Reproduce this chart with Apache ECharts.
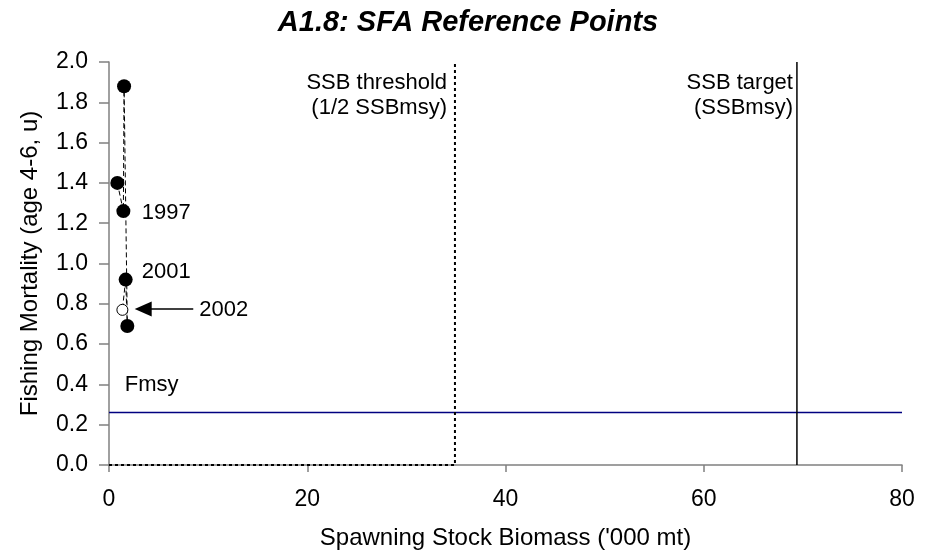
<!DOCTYPE html>
<html>
<head>
<meta charset="utf-8">
<title>A1.8: SFA Reference Points</title>
<script src="https://cdn.jsdelivr.net/npm/echarts@6/dist/echarts.min.js"></script>
<style>
  html, body { margin: 0; padding: 0; background: #fff; }
  #main { width: 936px; height: 556px; }
</style>
</head>
<body>
<div id="main"></div>
<script>
// stock trajectory (SSB '000 mt vs F), in plotted order
const years = [1996, 1997, 1998, 2000, 2001, 2002];
const ssb = [0.84, 1.45, 1.52, 1.85, 1.68, 1.35];
const fMort = [1.40, 1.26, 1.88, 0.69, 0.92, 0.77];

// reference points
const fmsy = 0.26;
const ssbThreshold = 34.9;
const ssbTarget = 69.4;

// tick labels
const xTicks = [0, 20, 40, 60, 80];
const yTicks = [0, 0.2, 0.4, 0.6, 0.8, 1.0, 1.2, 1.4, 1.6, 1.8, 2.0];

// text notes placed in data coordinates
const noteText = ["SSB threshold\n(1/2 SSBmsy)", "SSB target\n(SSBmsy)", "Fmsy", "1997", "2001", "2002"];
const noteX = [34.1, 69.0, 1.6, 3.3, 3.3, 9.1];
const noteY = [1.834, 1.834, 0.397, 1.25, 0.958, 0.769];
const noteSide = ["left", "left", "right", "right", "right", "right"];

// arrow pointing at the 2002 point
const arrowFrom = [8.5, 0.774];
const arrowTo = [3.45, 0.774];

const font = "'Liberation Sans', Arial, sans-serif";
const axisGrey = "#808080";

const myChart = echarts.init(document.getElementById("main"));

const trail = years.map(function (y, i) {
  const item = { name: String(y), value: [ssb[i], fMort[i]] };
  if (i === years.length - 1) {
    // latest year drawn as an open circle
    item.symbolSize = 11;
    item.itemStyle = { color: "#fff", borderColor: "#000", borderWidth: 1 };
  }
  return item;
});

const notes = noteText.map(function (t, i) {
  return {
    name: t,
    value: [noteX[i], noteY[i]],
    label: { position: noteSide[i], align: noteSide[i] === "left" ? "right" : "left" },
  };
});

const option = {
  animation: false,
  backgroundColor: "#fff",
  textStyle: { fontFamily: font },
  title: {
    text: "A1.8: SFA Reference Points",
    left: "center",
    top: 3,
    textStyle: {
      fontFamily: font,
      fontSize: 29,
      fontWeight: "bold",
      fontStyle: "italic",
      color: "#000",
    },
  },
  grid: { left: 109, right: 34, top: 62, bottom: 91 },
  xAxis: {
    type: "value",
    min: xTicks[0],
    max: xTicks[xTicks.length - 1],
    interval: xTicks[1] - xTicks[0],
    name: "Spawning Stock Biomass ('000 mt)",
    nameLocation: "middle",
    nameGap: 61,
    nameTextStyle: { fontFamily: font, fontSize: 24, color: "#000" },
    axisLine: { show: true, onZero: false, lineStyle: { color: axisGrey, width: 1.5 } },
    axisTick: { show: true, inside: false, length: 7, lineStyle: { color: axisGrey, width: 1.5 } },
    axisLabel: { fontFamily: font, fontSize: 23, color: "#000", margin: 23 },
    splitLine: { show: false },
  },
  yAxis: {
    type: "value",
    min: yTicks[0],
    max: yTicks[yTicks.length - 1],
    interval: 0.2,
    name: "Fishing Mortality (age 4-6, u)",
    nameLocation: "middle",
    nameGap: 67,
    nameTextStyle: { fontFamily: font, fontSize: 24, color: "#000" },
    axisLine: { show: true, onZero: false, lineStyle: { color: axisGrey, width: 1.5 } },
    axisTick: { show: true, inside: false, length: 10, lineStyle: { color: axisGrey, width: 1.5 } },
    axisLabel: {
      fontFamily: font,
      fontSize: 23,
      color: "#000",
      margin: 21,
      formatter: function (v) { return v.toFixed(1); },
    },
    splitLine: { show: false },
  },
  series: [
    {
      name: "Fmsy",
      type: "line",
      data: [[xTicks[0], fmsy], [xTicks[xTicks.length - 1], fmsy]],
      symbol: "none",
      lineStyle: { color: "#000080", width: 1.5 },
      silent: true,
      z: 2,
    },
    {
      name: "SSB threshold",
      type: "line",
      data: [[0, 0], [ssbThreshold, 0], [ssbThreshold, yTicks[yTicks.length - 1]]],
      symbol: "none",
      lineStyle: { color: "#000", width: 2, type: [3, 3] },
      silent: true,
      z: 3,
    },
    {
      name: "SSB target",
      type: "line",
      data: [[ssbTarget, 0], [ssbTarget, yTicks[yTicks.length - 1]]],
      symbol: "none",
      lineStyle: { color: "#000", width: 1.5 },
      silent: true,
      z: 3,
    },
    {
      name: "Stock",
      type: "line",
      data: trail,
      symbol: "circle",
      symbolSize: 14,
      itemStyle: { color: "#000" },
      lineStyle: { color: "#000", width: 1, type: [5, 3] },
      markLine: {
        silent: true,
        symbol: ["none", "triangle"],
        symbolSize: [15, 17],
        label: { show: false },
        lineStyle: { color: "#000", width: 1.5, type: "solid" },
        data: [[{ coord: arrowFrom }, { coord: arrowTo }]],
      },
      z: 5,
    },
    {
      name: "notes",
      type: "scatter",
      data: notes,
      symbolSize: 0,
      silent: true,
      itemStyle: { opacity: 1 },
      label: {
        show: true,
        distance: 0,
        formatter: "{b}",
        fontFamily: font,
        fontSize: 22,
        lineHeight: 25,
        color: "#000",
        opacity: 1,
      },
      z: 6,
    },
  ],
};

myChart.setOption(option);
</script>
</body>
</html>
